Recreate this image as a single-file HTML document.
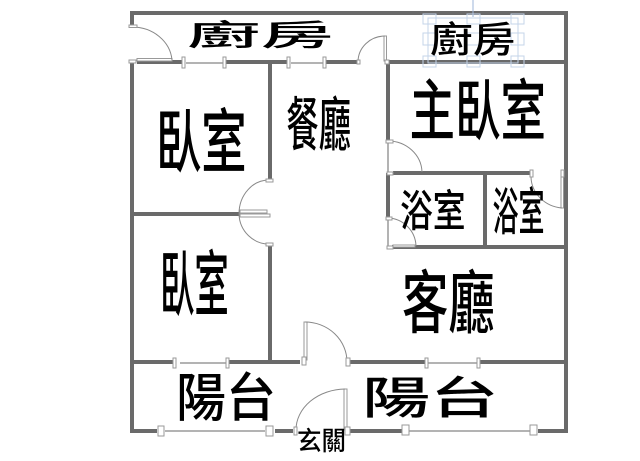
<!DOCTYPE html>
<html><head><meta charset="utf-8"><style>
html,body{margin:0;padding:0;background:#fff}
svg{display:block;filter:blur(.3px)}
text{font-family:"Liberation Sans","Noto Sans CJK TC",sans-serif;font-size:100px;font-weight:500;fill:#000}
.w{stroke:#6a6a6a;stroke-width:4;fill:none}
.t{stroke:#9a9a9a;stroke-width:1.5;fill:none}
.a{stroke:#888;stroke-width:1;fill:none}
.p{stroke:#999;stroke-width:1;fill:#fff}
.h{stroke:#c4d4ea;stroke-width:1;fill:none}
</style></head><body>
<svg width="640" height="461" viewBox="0 0 640 461" xmlns="http://www.w3.org/2000/svg">
<path class="w" d="M130 13H568M132 11V27M132 61V431M566 11V433M137 62H183M225 62H288M324 62H358M388 62H564M388 60V140M388 173V218M393 173H530M485 173V248M392 247H564M270 62V180M270 244V362M132 214H240M132 362H173M228 362H300M350 362H425M478 362H566M130 431H157M275 431H293M350 431H402M538 431H568"/>
<path class="t" d="M186 63H224M291 63H323M180 363H226M428 363H477M165 431H265M408 431H532M388 140V173M388 218V247"/>
<!-- door leaves -->
<rect class="p" x="137" y="58.500" width="35" height="2.500"/>
<rect class="p" x="384" y="36" width="2.500" height="25"/>
<rect class="p" x="240" y="210" width="27" height="3"/>
<rect class="p" x="240" y="214" width="30" height="3"/>
<rect class="p" x="304" y="322" width="3" height="38"/>
<rect class="p" x="344" y="389" width="3" height="41"/>
<rect class="p" x="561" y="177" width="2.500" height="31"/>
<rect class="p" x="393" y="245" width="22" height="2"/>
<!-- door arcs -->
<path class="a" d="M132 27A40 36 0 0 1 172 60M358 62A27 26 0 0 1 385 36M270 180A30 34 0 0 0 239 214A30 31 0 0 0 270 244M305 322A42 40 0 0 1 347 362M296 430A50 41 0 0 1 345 389M388 141A34 32 0 0 1 422 172M388 218A29 29 0 0 1 416 246M531 177A34 32 0 0 0 562 208"/>
<!-- jamb and window posts -->
<g class="p">
<rect x="129" y="25" width="8" height="2.500"/><rect x="129" y="60" width="7" height="3"/>
<rect x="182" y="57" width="3" height="11"/><rect x="223" y="57" width="3" height="11"/>
<rect x="287" y="57" width="3" height="11"/><rect x="323" y="57" width="3" height="11"/>
<rect x="357" y="60" width="3" height="4"/><rect x="385" y="60" width="4" height="4"/>
<rect x="266" y="179" width="7" height="3"/><rect x="266" y="243" width="7" height="3"/>
<rect x="386" y="140" width="7" height="3"/><rect x="387" y="172" width="6" height="3"/>
<rect x="386" y="217" width="6" height="3"/><rect x="387" y="246" width="6" height="3"/>
<rect x="530" y="170" width="3" height="7"/><rect x="561" y="170" width="3" height="7"/>
<rect x="173" y="358" width="3" height="10"/><rect x="226" y="358" width="3" height="10"/>
<rect x="302" y="357" width="4" height="8"/><rect x="346" y="358" width="4" height="8"/>
<rect x="425" y="358" width="3" height="10"/><rect x="477" y="358" width="3" height="10"/>
<rect x="158" y="426" width="6" height="10"/><rect x="266" y="426" width="7" height="10"/>
<rect x="294" y="427" width="3" height="8"/><rect x="345" y="427" width="5" height="8"/>
<rect x="402" y="425" width="7" height="10"/><rect x="530" y="425" width="7" height="10"/>
</g>
<!-- selection handles on the second kitchen label -->
<path d="M473 0V17" stroke="#9db4d8" stroke-width="1" fill="none"/>
<rect class="h" x="428" y="18" width="90" height="45"/>
<g class="h">
<rect x="423" y="14" width="13" height="10"/><rect x="467" y="14" width="13" height="10"/><rect x="511" y="14" width="13" height="10"/>
<rect x="423" y="33" width="13" height="12"/><rect x="467" y="33" width="13" height="12"/><rect x="511" y="33" width="13" height="12"/>
<rect x="423" y="56" width="13" height="11"/><rect x="467" y="56" width="13" height="11"/><rect x="511" y="56" width="13" height="11"/>
</g>
<!-- room labels -->
<text transform="translate(187 45.600) scale(.734 .293)">廚房</text>
<text transform="translate(430 52) scale(.427 .359)">廚房</text>
<text transform="translate(409.500 134.700) scale(.455 .663)">主臥室</text>
<text transform="translate(156 166.400) scale(.453 .696)">臥室</text>
<text transform="translate(286.400 145.300) scale(.323 .587)">餐廳</text>
<text transform="translate(160 310) scale(.344 .717)">臥室</text>
<text transform="translate(402 327.500) scale(.464 .685)">客廳</text>
<text transform="translate(400 226.500) scale(.328 .435)">浴室</text>
<text transform="translate(492.500 230) scale(.26 .511)">浴室</text>
<text transform="translate(176 415.800) scale(.5 .522)">陽台</text>
<text transform="translate(362 413.400) scale(.682 .446)">陽台</text>
<text transform="translate(297 449.900) scale(.245 .26)">玄關</text>
</svg>
</body></html>
